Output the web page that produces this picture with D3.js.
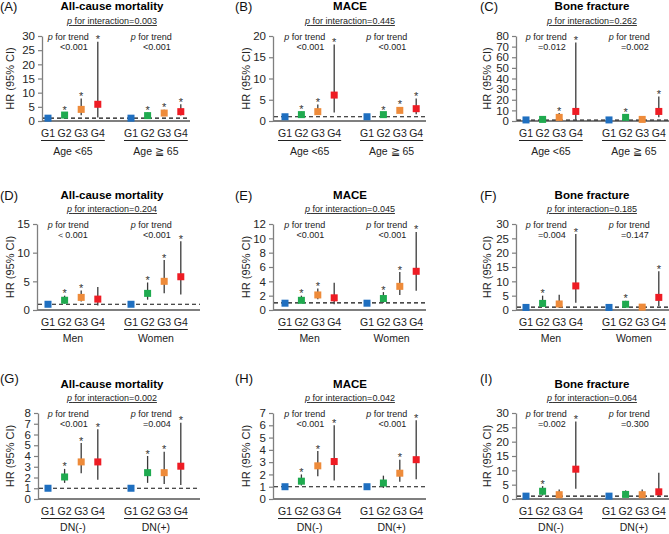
<!DOCTYPE html>
<html>
<head>
<meta charset="utf-8">
<script src="https://cdn.jsdelivr.net/npm/d3@7"></script>
<style>
  body { margin: 0; background: #fff; }
  text { font-family: "Liberation Sans", Arial, sans-serif; }
</style>
</head>
<body>
<script>
// ---- data ----
var groupNames = ["G1", "G2", "G3", "G4"];
var panelLetters = ["(A)", "(B)", "(C)", "(D)", "(E)", "(F)", "(G)", "(H)", "(I)"];
var outcomes = ["All-cause mortality", "MACE", "Bone fracture"];
var strata = [["Age <65", "Age \u2267 65"], ["Men", "Women"], ["DN(-)", "DN(+)"]];
var interactionP = ["0.003", "0.445", "0.262", "0.204", "0.045", "0.185", "0.002", "0.042", "0.064"];
var trendP = [
    ["<0.001", "<0.001"], ["<0.001", "<0.001"], ["=0.012", "=0.002"],
    ["\uFF1C0.001", "<0.001"], ["<0.001", "<0.001"], ["=0.004", "=0.147"],
    ["<0.001", "=0.004"], ["<0.001", "<0.001"], ["=0.002", "=0.300"]
];
var yMax = [30, 20, 80, 15, 12, 30, 8, 7, 30];
var yStep = [5, 5, 10, 5, 2, 5, 1, 1, 5];

// HR per panel: G1..G4 of first stratum, then G1..G4 of second stratum
var hrEst = [
    [1.0, 2.1, 4.1, 5.9, 1.0, 1.9, 2.8, 3.3],
    [1.0, 1.5, 2.2, 6.1, 1.0, 1.5, 2.5, 2.9],
    [1.0, 1.5, 3.4, 9.0, 1.0, 3.4, 1.5, 9.0],
    [1.0, 1.7, 2.2, 1.9, 1.0, 2.9, 5.0, 5.8],
    [0.95, 1.35, 2.1, 1.7, 0.95, 1.6, 3.3, 5.4],
    [0.9, 2.3, 2.1, 8.4, 0.9, 2.0, 1.0, 4.4],
    [1.0, 2.05, 3.45, 3.45, 1.0, 2.45, 2.45, 3.05],
    [1.0, 1.45, 2.7, 3.05, 1.0, 1.3, 2.1, 3.2],
    [1.0, 2.7, 1.5, 10.4, 1.0, 1.6, 1.5, 2.5]
];
var ciLow = [
    [1.0, 1.4, 2.0, 1.2, 1.0, 1.3, 2.0, 1.9],
    [1.0, 1.1, 1.5, 2.0, 1.0, 1.2, 1.9, 1.6],
    [1.0, 0.8, 1.5, 1.2, 1.0, 1.8, 0.7, 3.5],
    [1.0, 1.1, 1.5, 0.8, 1.0, 1.8, 2.9, 2.7],
    [0.95, 1.0, 1.5, 0.8, 0.95, 1.0, 2.1, 2.7],
    [0.9, 1.1, 0.7, 2.5, 0.9, 1.2, 0.5, 1.4],
    [1.0, 1.5, 2.4, 1.8, 1.0, 1.5, 1.4, 1.3],
    [1.0, 1.1, 1.85, 1.5, 1.0, 0.9, 1.4, 1.6],
    [1.0, 1.2, 0.7, 3.6, 1.0, 0.8, 0.7, 0.7]
];
var ciHigh = [
    [1.0, 3.1, 7.9, 28.0, 1.0, 3.0, 4.0, 5.9],
    [1.0, 2.2, 3.9, 18.0, 1.0, 2.0, 3.3, 5.3],
    [1.0, 2.8, 7.5, 74.0, 1.0, 6.0, 3.0, 23.0],
    [1.0, 2.5, 3.4, 4.0, 1.0, 4.8, 8.7, 12.0],
    [0.95, 2.0, 3.0, 3.8, 0.95, 2.5, 5.3, 10.9],
    [0.9, 5.0, 5.3, 26.5, 0.9, 3.2, 2.1, 13.5],
    [1.0, 2.8, 5.2, 6.5, 1.0, 4.0, 4.4, 7.1],
    [1.0, 2.0, 3.9, 6.0, 1.0, 1.9, 3.2, 6.4],
    [1.0, 4.5, 3.3, 27.0, 1.0, 3.0, 3.3, 9.2]
];
var starred = [
    [0, 1, 1, 1, 0, 1, 1, 1],
    [0, 1, 1, 1, 0, 1, 1, 1],
    [0, 0, 1, 1, 0, 1, 0, 1],
    [0, 1, 1, 0, 0, 1, 1, 1],
    [0, 1, 1, 0, 0, 1, 1, 1],
    [0, 1, 0, 1, 0, 1, 0, 1],
    [0, 1, 1, 1, 0, 1, 1, 1],
    [0, 1, 1, 1, 0, 0, 1, 1],
    [0, 1, 0, 1, 0, 0, 0, 0]
];

// ---- layout ----
var groupColors = ["#1f6fc0", "#1faa4f", "#ee8b3a", "#ee1c24"];
var rows = [
    {label: 11, title: 10, inter: 24, top: 36, bottom: 121},
    {label: 200, title: 198.5, inter: 212, top: 224, bottom: 310},
    {label: 383, title: 387.5, inter: 401, top: 413, bottom: 499}
];
var cols = [
    {label: 0, title: 112, hr: 10, g1: 48, step: 16.6},
    {label: 235, title: 350, hr: 246, g1: 285, step: 16.4},
    {label: 480, title: 592, hr: 487, g1: 526, step: 16.6}
];
var axisXs = [42, 273, 516, 37, 273, 516, 38, 273, 516];
var rightEnds = [190, 426, 669, 200, 426, 669, 200, 426, 669];

var svg = d3.select("body").append("svg")
    .attr("width", 669).attr("height", 534);

function pText(sel, rest) {
    sel.append("tspan").style("font-style", "italic").text("p");
    sel.append("tspan").text(rest);
}

for (var p = 0; p < 9; p++) {
    drawPanel(p);
}

function drawPanel(p) {
    var r = rows[Math.floor(p / 3)];
    var c = cols[p % 3];
    var ri = Math.floor(p / 3);
    var g = svg.append("g");

    var yScale = d3.scaleLinear().domain([0, yMax[p]]).range([r.bottom, r.top]);
    var xScale = d3.scaleLinear().domain([0, 8]).range([c.g1, c.g1 + 8 * c.step]);
    var slot = function (i) { return i < 4 ? i : i + 1; };

    var points = hrEst[p].map(function (v, i) {
        return {i: i, hr: v, lo: ciLow[p][i], hi: ciHigh[p][i], star: starred[p][i]};
    });

    // panel letter, title, interaction p
    g.append("text").attr("x", c.label).attr("y", r.label)
        .attr("font-size", 13).attr("fill", "#111").text(panelLetters[p]);
    g.append("text").attr("x", c.title).attr("y", r.title)
        .attr("text-anchor", "middle").attr("font-size", 11.5).attr("font-weight", "bold")
        .attr("fill", "#000").text(outcomes[p % 3]);
    var inter = g.append("text").attr("x", c.title).attr("y", r.inter)
        .attr("text-anchor", "middle").attr("font-size", 9).attr("fill", "#222")
        .style("text-decoration", "underline");
    pText(inter, " for interaction=" + interactionP[p]);

    // axes
    var ticks = d3.range(0, yMax[p] + yStep[p] / 2, yStep[p]);
    var yAxis = d3.axisLeft(yScale).tickValues(ticks).tickFormat(d3.format("d"))
        .tickSize(4).tickSizeOuter(0).tickPadding(3);
    var ax = g.append("g").attr("transform", "translate(" + axisXs[p] + ",0)").call(yAxis);
    ax.select(".domain").attr("stroke", "#7f7f7f").attr("stroke-width", 1.3);
    ax.selectAll(".tick line").attr("stroke", "#7f7f7f").attr("stroke-width", 1.2);
    ax.selectAll(".tick text").attr("font-size", 11.5).attr("fill", "#262626")
        .attr("font-family", "Liberation Sans, Arial, sans-serif");

    g.append("line")
        .attr("x1", axisXs[p]).attr("x2", rightEnds[p])
        .attr("y1", r.bottom).attr("y2", r.bottom)
        .attr("stroke", "#7f7f7f").attr("stroke-width", 2);

    g.append("text")
        .attr("transform", "translate(" + c.hr + "," + (r.top + r.bottom) / 2 + ") rotate(-90)")
        .attr("text-anchor", "middle").attr("dy", "0.35em")
        .attr("font-size", 11).attr("fill", "#262626").text("HR (95% CI)");

    // reference line at HR = 1
    g.append("line")
        .attr("x1", axisXs[p] + 1).attr("x2", rightEnds[p])
        .attr("y1", yScale(1)).attr("y2", yScale(1))
        .attr("stroke", "#111").attr("stroke-width", 1.1)
        .attr("stroke-dasharray", "4,3");

    // CI bars
    g.selectAll(".ci").data(points.filter(function (d) { return d.hi > d.lo; }))
        .enter().append("line")
        .attr("class", "ci")
        .attr("x1", function (d) { return xScale(slot(d.i)); })
        .attr("x2", function (d) { return xScale(slot(d.i)); })
        .attr("y1", function (d) { return yScale(d.lo); })
        .attr("y2", function (d) { return yScale(d.hi); })
        .attr("stroke", "#3a3a3a").attr("stroke-width", 1.3);

    // HR markers
    var sz = 7;
    g.selectAll(".hr").data(points)
        .enter().append("rect")
        .attr("class", "hr")
        .attr("x", function (d) { return xScale(slot(d.i)) - sz / 2; })
        .attr("y", function (d) { return yScale(d.hr) - sz / 2; })
        .attr("width", sz).attr("height", sz)
        .attr("fill", function (d) { return groupColors[d.i % 4]; });

    // significance stars
    g.selectAll(".star").data(points.filter(function (d) { return d.star; }))
        .enter().append("text")
        .attr("class", "star")
        .attr("x", function (d) { return xScale(slot(d.i)); })
        .attr("y", function (d) { return yScale(d.hi) + 1.5; })
        .attr("text-anchor", "middle").attr("font-size", 11).attr("fill", "#333")
        .text("*");

    // group tick labels, underline, stratum labels, trend p
    for (var s = 0; s < 2; s++) {
        var first = xScale(s * 5), last = xScale(s * 5 + 3);
        groupNames.forEach(function (gn, k) {
            g.append("text").attr("x", xScale(s * 5 + k)).attr("y", r.bottom + 16)
                .attr("text-anchor", "middle").attr("font-size", 10.5).attr("fill", "#222")
                .text(gn);
        });
        g.append("line").attr("x1", first - 7).attr("x2", last + 7)
            .attr("y1", r.bottom + 19.5).attr("y2", r.bottom + 19.5)
            .attr("stroke", "#222").attr("stroke-width", 1);
        g.append("text").attr("x", (first + last) / 2).attr("y", r.bottom + (ri === 0 ? 34 : 32))
            .attr("text-anchor", "middle").attr("font-size", 10.5).attr("fill", "#222")
            .text(strata[ri][s]);

        var t1 = g.append("text").attr("x", last - 9).attr("y", r.top + 4)
            .attr("text-anchor", "end").attr("font-size", 9).attr("fill", "#222");
        pText(t1, " for trend");
        g.append("text").attr("x", last - 10).attr("y", r.top + 14)
            .attr("text-anchor", "end").attr("font-size", 9).attr("fill", "#222")
            .text(trendP[p][s]);
    }
}
</script>
</body>
</html>
